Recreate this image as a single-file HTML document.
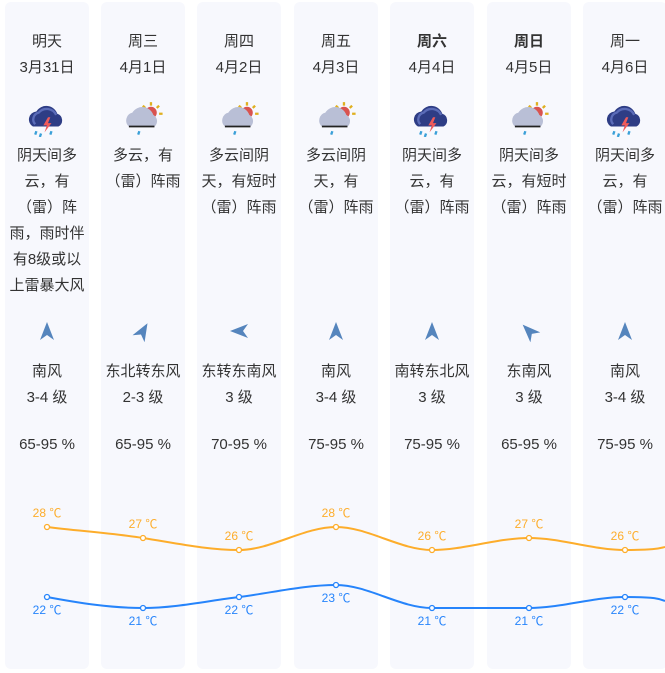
<!DOCTYPE html>
<html><head><meta charset="utf-8"><style>
body{margin:0;width:665px;height:673px;overflow:hidden;background:#fff;font-family:"Liberation Sans","Noto Sans CJK SC",sans-serif;color:#333;position:relative}
.col{position:absolute;top:2px;width:84px;height:667px;background:#f7f8fd;border-radius:6px}
.t{position:absolute;left:-10px;width:104px;text-align:center;font-size:15px;line-height:26px;white-space:nowrap}
.b{font-weight:bold}
.ic{position:absolute;left:23px;top:99px}
.ar{position:absolute;left:35px;top:320px;width:14px;height:18px}
svg.ch{position:absolute;left:0;top:0}
</style></head><body>
<svg width="0" height="0" style="position:absolute"><defs>
<g id="storm"><path d="M6 22a7 7 0 0 1 3-13 10 10 0 0 1 18 2 6 6 0 0 1 1 11z" fill="#2e3d85"/><path d="M8 20a6 6 0 0 1 3-10 9 9 0 0 1 15 2" fill="none" stroke="#5b6cb8" stroke-width="2"/><path d="M19 14l-4 7h3l-2 6 6-8h-3l2-5z" fill="#f05a5a"/><path d="M9 26l-1 3M13 28l-1 3M22 26l-1 3" stroke="#3aa0d8" stroke-width="2"/></g>
<g id="sun"><circle cx="25" cy="10" r="5" fill="#d9534f"/><path d="M25 1v3M32 4l-2 2M35 11h-3M18 4l2 2" stroke="#e0b020" stroke-width="2"/><path d="M6 22a7 7 0 0 1 3-12 10 10 0 0 1 18 2 6 6 0 0 1 1 10z" fill="#b9bfd6"/><path d="M6 22h22" stroke="#222" stroke-width="1.5"/><path d="M15 26l-1 3" stroke="#3aa0d8" stroke-width="2"/></g>
<path id="arr" d="M7 0L14 18L7 13L0 18Z" fill="#5585bd"/>
</defs></svg>

<div class="col" style="left:5px">
<div class="t" style="top:27px">明天</div><div class="t" style="top:53px">3月31日</div>
<svg class="ic" width="40" height="36" viewBox="2 0 34 31"><use href="#storm"/></svg>
<div class="t" style="top:141px">阴天间多<br>云，有<br>（雷）阵<br>雨，雨时伴<br>有8级或以<br>上雷暴大风</div>
<svg class="ar" viewBox="0 0 14 18"><use href="#arr"/></svg>
<div class="t" style="top:357px">南风<br>3-4 级</div><div class="t" style="top:430px">65-95 %</div></div>

<div class="col" style="left:101px">
<div class="t" style="top:27px">周三</div><div class="t" style="top:53px">4月1日</div>
<svg class="ic" width="40" height="36" viewBox="2 0 34 31"><use href="#sun"/></svg>
<div class="t" style="top:141px">多云，有<br>（雷）阵雨</div>
<svg class="ar" viewBox="0 0 14 18" style="transform:rotate(30deg)"><use href="#arr"/></svg>
<div class="t" style="top:357px">东北转东风<br>2-3 级</div><div class="t" style="top:430px">65-95 %</div></div>

<div class="col" style="left:197px">
<div class="t" style="top:27px">周四</div><div class="t" style="top:53px">4月2日</div>
<svg class="ic" width="40" height="36" viewBox="2 0 34 31"><use href="#sun"/></svg>
<div class="t" style="top:141px">多云间阴<br>天，有短时<br>（雷）阵雨</div>
<svg class="ar" viewBox="0 0 14 18" style="transform:rotate(-90deg)"><use href="#arr"/></svg>
<div class="t" style="top:357px">东转东南风<br>3 级</div><div class="t" style="top:430px">70-95 %</div></div>

<div class="col" style="left:294px">
<div class="t" style="top:27px">周五</div><div class="t" style="top:53px">4月3日</div>
<svg class="ic" width="40" height="36" viewBox="2 0 34 31"><use href="#sun"/></svg>
<div class="t" style="top:141px">多云间阴<br>天，有<br>（雷）阵雨</div>
<svg class="ar" viewBox="0 0 14 18"><use href="#arr"/></svg>
<div class="t" style="top:357px">南风<br>3-4 级</div><div class="t" style="top:430px">75-95 %</div></div>

<div class="col" style="left:390px">
<div class="t b" style="top:27px">周六</div><div class="t" style="top:53px">4月4日</div>
<svg class="ic" width="40" height="36" viewBox="2 0 34 31"><use href="#storm"/></svg>
<div class="t" style="top:141px">阴天间多<br>云，有<br>（雷）阵雨</div>
<svg class="ar" viewBox="0 0 14 18"><use href="#arr"/></svg>
<div class="t" style="top:357px">南转东北风<br>3 级</div><div class="t" style="top:430px">75-95 %</div></div>

<div class="col" style="left:487px">
<div class="t b" style="top:27px">周日</div><div class="t" style="top:53px">4月5日</div>
<svg class="ic" width="40" height="36" viewBox="2 0 34 31"><use href="#sun"/></svg>
<div class="t" style="top:141px">阴天间多<br>云，有短时<br>（雷）阵雨</div>
<svg class="ar" viewBox="0 0 14 18" style="transform:rotate(-45deg)"><use href="#arr"/></svg>
<div class="t" style="top:357px">东南风<br>3 级</div><div class="t" style="top:430px">65-95 %</div></div>

<div class="col" style="left:583px">
<div class="t" style="top:27px">周一</div><div class="t" style="top:53px">4月6日</div>
<svg class="ic" width="40" height="36" viewBox="2 0 34 31"><use href="#storm"/></svg>
<div class="t" style="top:141px">阴天间多<br>云，有<br>（雷）阵雨</div>
<svg class="ar" viewBox="0 0 14 18"><use href="#arr"/></svg>
<div class="t" style="top:357px">南风<br>3-4 级</div><div class="t" style="top:430px">75-95 %</div></div>

<svg class="ch" width="665" height="673" font-family="Liberation Sans, Noto Sans CJK SC, sans-serif" font-size="12" text-anchor="middle">
<path d="M47 527C79 531 111 533 143 538S207 550 239 550S304 527 336 527S400 550 432 550S497 538 529 538S593 550 625 550S660 548 665 547" fill="none" stroke="#fdad2b" stroke-width="2"/>
<path d="M47 597C79 603 111 608 143 608S207 601 239 597S304 585 336 585S400 608 432 608S497 608 529 608S593 597 625 597S660 599 665 601" fill="none" stroke="#2684fb" stroke-width="2"/>
<g fill="#fff" stroke="#fdad2b" stroke-width="1.3">
<circle cx="47" cy="527" r="2.5"/><circle cx="143" cy="538" r="2.5"/><circle cx="239" cy="550" r="2.5"/><circle cx="336" cy="527" r="2.5"/><circle cx="432" cy="550" r="2.5"/><circle cx="529" cy="538" r="2.5"/><circle cx="625" cy="550" r="2.5"/></g>
<g fill="#fff" stroke="#2684fb" stroke-width="1.3">
<circle cx="47" cy="597" r="2.5"/><circle cx="143" cy="608" r="2.5"/><circle cx="239" cy="597" r="2.5"/><circle cx="336" cy="585" r="2.5"/><circle cx="432" cy="608" r="2.5"/><circle cx="529" cy="608" r="2.5"/><circle cx="625" cy="597" r="2.5"/></g>
<g fill="#fdad2b">
<text x="47" y="517">28 ℃</text><text x="143" y="528">27 ℃</text><text x="239" y="540">26 ℃</text><text x="336" y="517">28 ℃</text><text x="432" y="540">26 ℃</text><text x="529" y="528">27 ℃</text><text x="625" y="540">26 ℃</text></g>
<g fill="#2684fb">
<text x="47" y="614">22 ℃</text><text x="143" y="625">21 ℃</text><text x="239" y="614">22 ℃</text><text x="336" y="602">23 ℃</text><text x="432" y="625">21 ℃</text><text x="529" y="625">21 ℃</text><text x="625" y="614">22 ℃</text></g>
</svg>
</body></html>
